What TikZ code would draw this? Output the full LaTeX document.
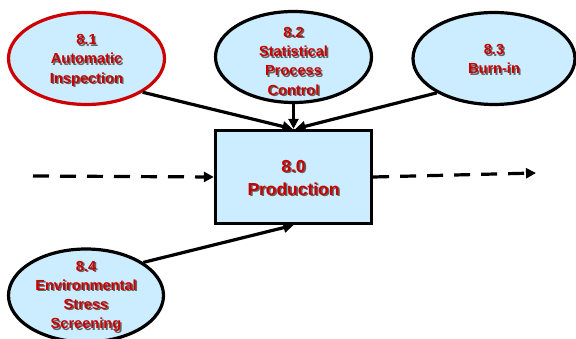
\documentclass[tikz,border=0pt]{standalone}
\usepackage{fontspec}
\setmainfont{Liberation Sans}
\usetikzlibrary{shapes.geometric,arrows.meta,calc}
\definecolor{procfill}{RGB}{204,236,255}
\definecolor{txtred}{RGB}{200,0,0}
\definecolor{shgray}{RGB}{100,100,100}
\definecolor{ringred}{RGB}{204,0,0}
\newcommand\shtx[1]{\leavevmode\rlap{\kern1.5pt\raisebox{-1.5pt}{\textcolor{shgray}{#1}}}\textcolor{txtred}{#1}}
\tikzset{
  procell/.style={ellipse,draw=black,line width=3.2pt,fill=procfill,inner sep=0pt,minimum width=156pt,minimum height=92pt},
  procbox/.style={rectangle,draw=black,line width=3.4pt,fill=procfill,inner sep=0pt,minimum width=156pt,minimum height=93pt},
  elltext/.style={align=center,font=\fontsize{14.6}{19.2}\selectfont\bfseries,inner sep=0pt},
  boxtext/.style={align=center,font=\fontsize{17.4}{23}\selectfont\bfseries,inner sep=0pt},
  flow/.style={line width=3.2pt,-{Triangle[length=10pt,width=10pt]}},
  dflow/.style={flow,dash pattern=on 16pt off 11pt}
}
\begin{document}
\begin{tikzpicture}[x=1pt,y=-1pt]
\useasboundingbox (0,0) rectangle (576,339);
\node[procell,draw=ringred] (e1) at (86.5,58.5) {};
\node[procell,minimum height=91pt] (e2) at (293.5,57) {};
\node[procell,minimum width=162pt] (e3) at (494,58.5) {};
\node[procell,minimum width=155pt,minimum height=93pt] (e4) at (86,295.5) {};
\node[procbox] (box) at (293.5,177) {};
\node[elltext] (t1) at (86.5,61) {\shtx{8.1}\\\shtx{Automatic}\\\shtx{Inspection}};
\node[elltext] (t2) at (293.5,62) {\shtx{8.2}\\\shtx{Statistical}\\\shtx{Process}\\\shtx{Control}};
\node[elltext] (t3) at (494,60) {\shtx{8.3}\\\shtx{Burn-in}};
\node[elltext] (t4) at (86,297) {\shtx{8.4}\\\shtx{Environmental}\\\shtx{Stress}\\\shtx{Screening}};
\node[boxtext] (t0) at (293.5,178.5) {\shtx{8.0}\\\shtx{Production}};
\coordinate (inL) at (33,176);
\coordinate (outR) at (536,173);
\draw[flow] (e1.-31) -- ($(box.north)+(-1,0)$);
\draw[flow] (e2.south) -- (box.north);
\draw[flow] (e3.-149) -- ($(box.north)+(2,0)$);
\draw[flow] (e4.30) -- (box.south);
\draw[dflow] (inL) -- (box.west);
\draw[dflow] (box.east) -- (outR);
\end{tikzpicture}
\end{document}
